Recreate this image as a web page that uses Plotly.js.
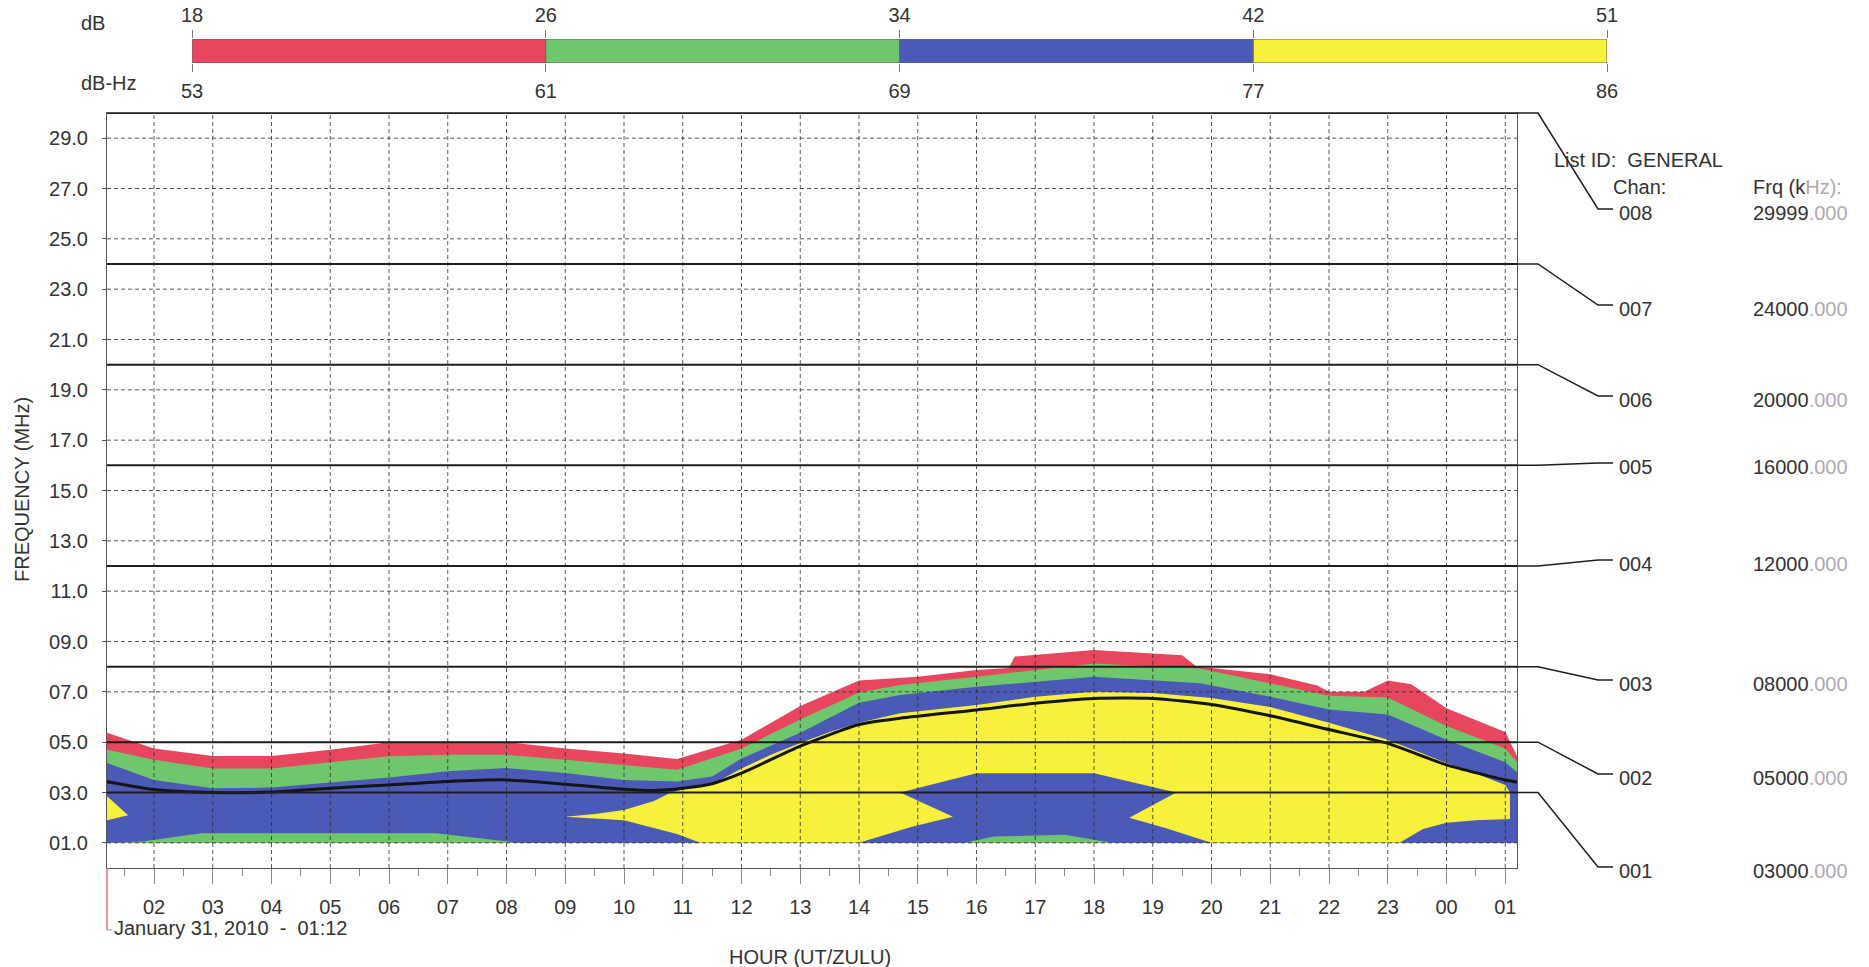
<!DOCTYPE html>
<html><head><meta charset="utf-8">
<script src="https://cdn.plot.ly/plotly-3.0.1.min.js"></script>
<style>html,body{margin:0;padding:0;background:#fff;}#chart{width:1869px;height:967px;}</style>
</head><body><div id="chart"></div>
<script>
// ---------------- DATA ----------------
const hours = [2,3,4,5,6,7,8,9,10,11,12,13,14,15,16,17,18,19,20,21,22,23,24,25];
const hourLabels = ['02','03','04','05','06','07','08','09','10','11','12','13','14','15','16','17','18','19','20','21','22','23','00','01'];
const freqTicks = [1,3,5,7,9,11,13,15,17,19,21,23,25,27,29];
const freqLabels = ['01.0','03.0','05.0','07.0','09.0','11.0','13.0','15.0','17.0','19.0','21.0','23.0','25.0','27.0','29.0'];

// colour scale (dB / dB-Hz thresholds)
const dBLabels = ['18','26','34','42','51'];
const dBHzLabels = ['53','61','69','77','86'];
const bandColors = ['#e8465f','#6ec76c','#4b5ab7','#f7f13d'];

// time span (hours, 01:12 to 01:12) and lowest predicted frequency (MHz)
const timeStart = 1.2, timeEnd = 25.2;
const freqMin = 1.0;

// red band top (SNR >= 18 dB)
const redX   = [1.2, 2, 3, 4, 5, 6, 7, 8, 9, 10, 10.9, 12, 13, 14, 15, 16, 16.55, 16.65, 18, 19.5, 19.75, 20, 21, 21.8, 22, 22.6, 23, 23.4, 24, 25, 25.2];
const redTop = [5.37, 4.75, 4.45, 4.45, 4.7, 5.0, 5.0, 5.0, 4.75, 4.55, 4.33, 5.1, 6.44, 7.45, 7.6, 7.87, 7.95, 8.4, 8.66, 8.45, 8.0, 7.95, 7.7, 7.25, 7.0, 7.0, 7.45, 7.3, 6.35, 5.4, 4.45];
// green band top (SNR >= 26 dB)
const greenX   = [1.2, 2, 3, 4, 5, 6, 7, 8, 9, 10, 10.9, 12, 13, 14, 14.7, 16, 18, 19.8, 21, 22, 23, 24, 25, 25.2];
const greenTop = [4.7, 4.3, 3.95, 3.95, 4.2, 4.44, 4.5, 4.5, 4.3, 4.1, 3.9, 4.75, 5.9, 6.97, 7.27, 7.6, 8.13, 7.93, 7.35, 6.84, 6.77, 5.64, 4.75, 4.2];
// blue band (SNR >= 34 dB)
const blueX   = [1.2, 2, 3, 4, 5, 6, 7, 8, 9, 10, 10.9, 11.5, 12, 13, 14, 14.7, 16, 18, 19.8, 21, 22, 23, 24, 25, 25.2];
const blueTop = [4.17, 3.5, 3.17, 3.2, 3.4, 3.6, 3.84, 3.97, 3.77, 3.5, 3.44, 3.64, 4.35, 5.37, 6.57, 6.87, 7.2, 7.6, 7.34, 6.8, 6.3, 6.1, 5.1, 4.2, 3.8];
const blueBotX = [1.2, 1.8, 2.8, 6.8, 7.5, 8.2, 15.8, 16.3, 17.5, 18.3, 25.2];
const blueBot  = [1.0, 1.05, 1.38, 1.38, 1.2, 1.0, 1.0, 1.25, 1.32, 1.0, 1.0];
// yellow regions (SNR >= 42 dB), outlines
const yellow1X = [1.2, 1.56, 1.2];
const yellow1Y = [2.85, 2.1, 1.9];
const yellow2X = [9.0, 9.5, 10.0, 10.5, 10.8, 11.2, 11.6, 12.0, 12.5, 13.0, 13.5, 14.0, 14.7, 16.0, 17.0, 18.0, 19.0, 20.0, 21.0, 22.0, 23.0, 24.0, 24.5, 25.0, 25.08, 25.08, 24.5, 24.0, 23.6, 23.2, 20.0, 19.6, 19.2, 18.6, 19.4, 18.0, 16.0, 14.7, 15.6, 14.9, 14.4, 14.0, 11.3, 10.9, 10.0, 9.0];
const yellow2Y = [2.04, 2.15, 2.3, 2.65, 3.0, 3.25, 3.45, 3.95, 4.5, 4.97, 5.4, 5.77, 6.15, 6.48, 6.8, 7.0, 6.95, 6.75, 6.4, 5.77, 5.1, 4.17, 3.75, 3.3, 3.0, 1.95, 1.9, 1.8, 1.55, 1.0, 1.0, 1.3, 1.6, 2.0, 3.0, 3.76, 3.76, 3.0, 2.04, 1.64, 1.3, 1.0, 1.0, 1.35, 1.9, 2.04];
// black curve
const mufX = [1.2, 2, 3, 4, 5, 6, 7, 8, 9, 10, 10.5, 11, 11.5, 12, 13, 14, 14.7, 16, 17, 18, 19, 20, 21, 22, 23, 24, 25, 25.2];
const mufY = [3.43, 3.12, 3.0, 3.02, 3.17, 3.3, 3.44, 3.5, 3.33, 3.13, 3.08, 3.17, 3.35, 3.77, 4.84, 5.7, 5.95, 6.28, 6.55, 6.74, 6.74, 6.5, 6.05, 5.5, 4.95, 4.1, 3.5, 3.42];

// channels
const chanIds  = ['001','002','003','004','005','006','007','008'];
const chanMHz  = [3, 5, 8, 12, 16, 20, 24, 29.999];
const chanKHz  = ['03000','05000','08000','12000','16000','20000','24000','29999'];
const chanKHzFrac = '.000';

// ---------------- LAYOUT GEOMETRY ----------------
const W = 1869, H = 967;
const FONT = '"Liberation Sans", Arial, sans-serif';
const TXT = '#333';
const px2x = p => p / W;
const py2y = p => 1 - p / H;
const PLOT = {l:107, r:1517, t:113, b:868};
const xDom = [px2x(PLOT.l), px2x(PLOT.r)];
const yDom = [py2y(PLOT.b), py2y(PLOT.t)];
const Y_RANGE = [0, 30];
const yPaper = v => yDom[0] + (v - Y_RANGE[0]) / (Y_RANGE[1] - Y_RANGE[0]) * (yDom[1] - yDom[0]);
const BAR = {l:192, r:1607, t:39, b:63};
const labelPx = [871, 778, 684, 564, 467, 400, 309, 213];   // label rows for 001..008

// ---------------- TRACES ----------------
function poly(xs, ys, color) {
  return {type:'scatter', x:xs, y:ys, fill:'toself', fillcolor:color, mode:'lines',
          line:{width:0, color:color}, hoverinfo:'skip', xaxis:'x', yaxis:'y'};
}
function band(xTop, yTop, xBot, yBot, color) {
  return poly(xTop.concat(xBot.slice().reverse()), yTop.concat(yBot.slice().reverse()), color);
}
const baseX = [timeStart, timeEnd], baseY = [freqMin, freqMin];
const traces = [];
traces.push(band(redX, redTop, baseX, baseY, bandColors[0]));
traces.push(band(greenX, greenTop, baseX, baseY, bandColors[1]));
traces.push(band(blueX, blueTop, blueBotX, blueBot, bandColors[2]));
traces.push(poly(yellow1X, yellow1Y, bandColors[3]));
traces.push(poly(yellow2X, yellow2Y, bandColors[3]));

// dashed grid drawn over the fills
const gx = [], gy = [];
hours.forEach(h => { gx.push(h, h, null); gy.push(Y_RANGE[0], Y_RANGE[1], null); });
freqTicks.forEach(f => { gx.push(timeStart, timeEnd, null); gy.push(f, f, null); });
traces.push({type:'scatter', mode:'lines', x:gx, y:gy, connectgaps:false, hoverinfo:'skip',
  line:{color:'rgba(45,45,45,0.8)', width:1, dash:'4px,3px'}});

// black curve
traces.push({type:'scatter', mode:'lines', x:mufX, y:mufY, hoverinfo:'skip',
  line:{color:'#151515', width:3, shape:'spline', smoothing:0.6}});

// channel lines
const cx = [], cy = [];
chanMHz.forEach(f => { cx.push(timeStart, timeEnd, null); cy.push(f, f, null); });
traces.push({type:'scatter', mode:'lines', x:cx, y:cy, hoverinfo:'skip', line:{color:'#1e1e1e', width:2}});

// colour scale bar
traces.push({type:'bar', orientation:'h', xaxis:'x2', yaxis:'y2', y:[0,0,0,0], x:[1,1,1,1], base:[0,1,2,3],
  width:1, marker:{color:bandColors, line:{color:'#666', width:1}}, hoverinfo:'skip'});
traces.push({type:'scatter', mode:'none', xaxis:'x3', yaxis:'y2', x:[0,4], y:[0,0], hoverinfo:'skip'});

// ---------------- ANNOTATIONS / SHAPES ----------------
function ann(text, xpx, ypx, o) {
  return Object.assign({text:text, x:px2x(xpx), y:py2y(ypx), xref:'paper', yref:'paper', showarrow:false,
    xanchor:'left', yanchor:'middle', font:{family:FONT, size:20, color:TXT}}, o || {});
}
const GRAY = '#b4a7b4';
const annotations = [
  ann('dB', 79, 23),
  ann('dB-Hz', 79, 83),
  ann('FREQUENCY (MHz)', 22, 490, {xanchor:'center', textangle:-90}),
  ann('HOUR (UT/ZULU)', 810, 957, {xanchor:'center'}),
  ann('January 31, 2010\u00a0\u00a0-\u00a0\u00a001:12', 112, 928),
  ann('List ID:\u00a0\u00a0GENERAL', 1552, 160),
  ann('Chan:', 1611, 187),
  ann('Frq (k<span style="color:' + GRAY + '">Hz):</span>', 1751, 187)
];
const shapes = [
  {type:'line', xref:'paper', yref:'paper', x0:px2x(107), x1:px2x(107), y0:py2y(868), y1:py2y(930), line:{color:'#e5707f', width:1.5}},
  {type:'line', xref:'paper', yref:'paper', x0:px2x(107), x1:px2x(112), y0:py2y(930), y1:py2y(930), line:{color:'#999', width:1}}
];
chanIds.forEach((id, i) => {
  const lp = labelPx[i];
  annotations.push(ann(id, 1617, lp));
  annotations.push(ann(chanKHz[i] + '<span style="color:' + GRAY + '">' + chanKHzFrac + '</span>', 1751, lp));
  const yl = yPaper(chanMHz[i]);
  shapes.push({type:'path', xref:'paper', yref:'paper',
    path:'M ' + px2x(PLOT.r) + ' ' + yl + ' L ' + px2x(1538) + ' ' + yl +
         ' L ' + px2x(1598) + ' ' + py2y(lp - 4) + ' L ' + px2x(1613) + ' ' + py2y(lp - 4),
    line:{color:'#1e1e1e', width:1.5}});
});

const layout = {
  width:W, height:H, margin:{l:0, r:0, t:0, b:0}, paper_bgcolor:'#fff', plot_bgcolor:'#fff',
  showlegend:false, barmode:'overlay', bargap:0, hovermode:false,
  font:{family:FONT, size:20, color:TXT},
  xaxis:{domain:xDom, range:[timeStart, timeEnd], anchor:'y', tickmode:'array', tickvals:hours, ticktext:hourLabels,
    ticks:'outside', ticklen:15, tickcolor:'#888', tickwidth:1, ticklabelstandoff:6,
    minor:{ticks:'outside', ticklen:7, tick0:0, dtick:0.5, tickcolor:'#888', showgrid:false},
    showgrid:false, zeroline:false, showline:true, mirror:true, linecolor:'#555', linewidth:1,
    tickfont:{family:FONT, size:20, color:TXT}, fixedrange:true},
  yaxis:{domain:yDom, range:Y_RANGE, anchor:'x', tickmode:'array', tickvals:freqTicks, ticktext:freqLabels,
    ticks:'outside', ticklen:4, tickcolor:'#555', ticklabelstandoff:10,
    showgrid:false, zeroline:false, showline:true, mirror:true, linecolor:'#555', linewidth:1,
    tickfont:{family:FONT, size:20, color:TXT}, fixedrange:true},
  xaxis2:{domain:[px2x(BAR.l), px2x(BAR.r)], range:[0,4], anchor:'y2', side:'top', tickmode:'array',
    tickvals:[0,1,2,3,4], ticktext:dBLabels, ticks:'outside', ticklen:8, tickcolor:'#777',
    showgrid:false, zeroline:false, showline:false, tickfont:{family:FONT, size:20, color:TXT}, fixedrange:true},
  xaxis3:{overlaying:'x2', range:[0,4], anchor:'y2', side:'bottom', tickmode:'array',
    tickvals:[0,1,2,3,4], ticktext:dBHzLabels, ticks:'outside', ticklen:8, tickcolor:'#777', ticklabelstandoff:2,
    showgrid:false, zeroline:false, showline:false, tickfont:{family:FONT, size:20, color:TXT}, fixedrange:true},
  yaxis2:{domain:[py2y(BAR.b), py2y(BAR.t)], range:[-0.5,0.5], anchor:'x2', visible:false, fixedrange:true},
  annotations:annotations, shapes:shapes
};
Plotly.newPlot('chart', traces, layout, {staticPlot:true, displayModeBar:false});
</script>
</body></html>
